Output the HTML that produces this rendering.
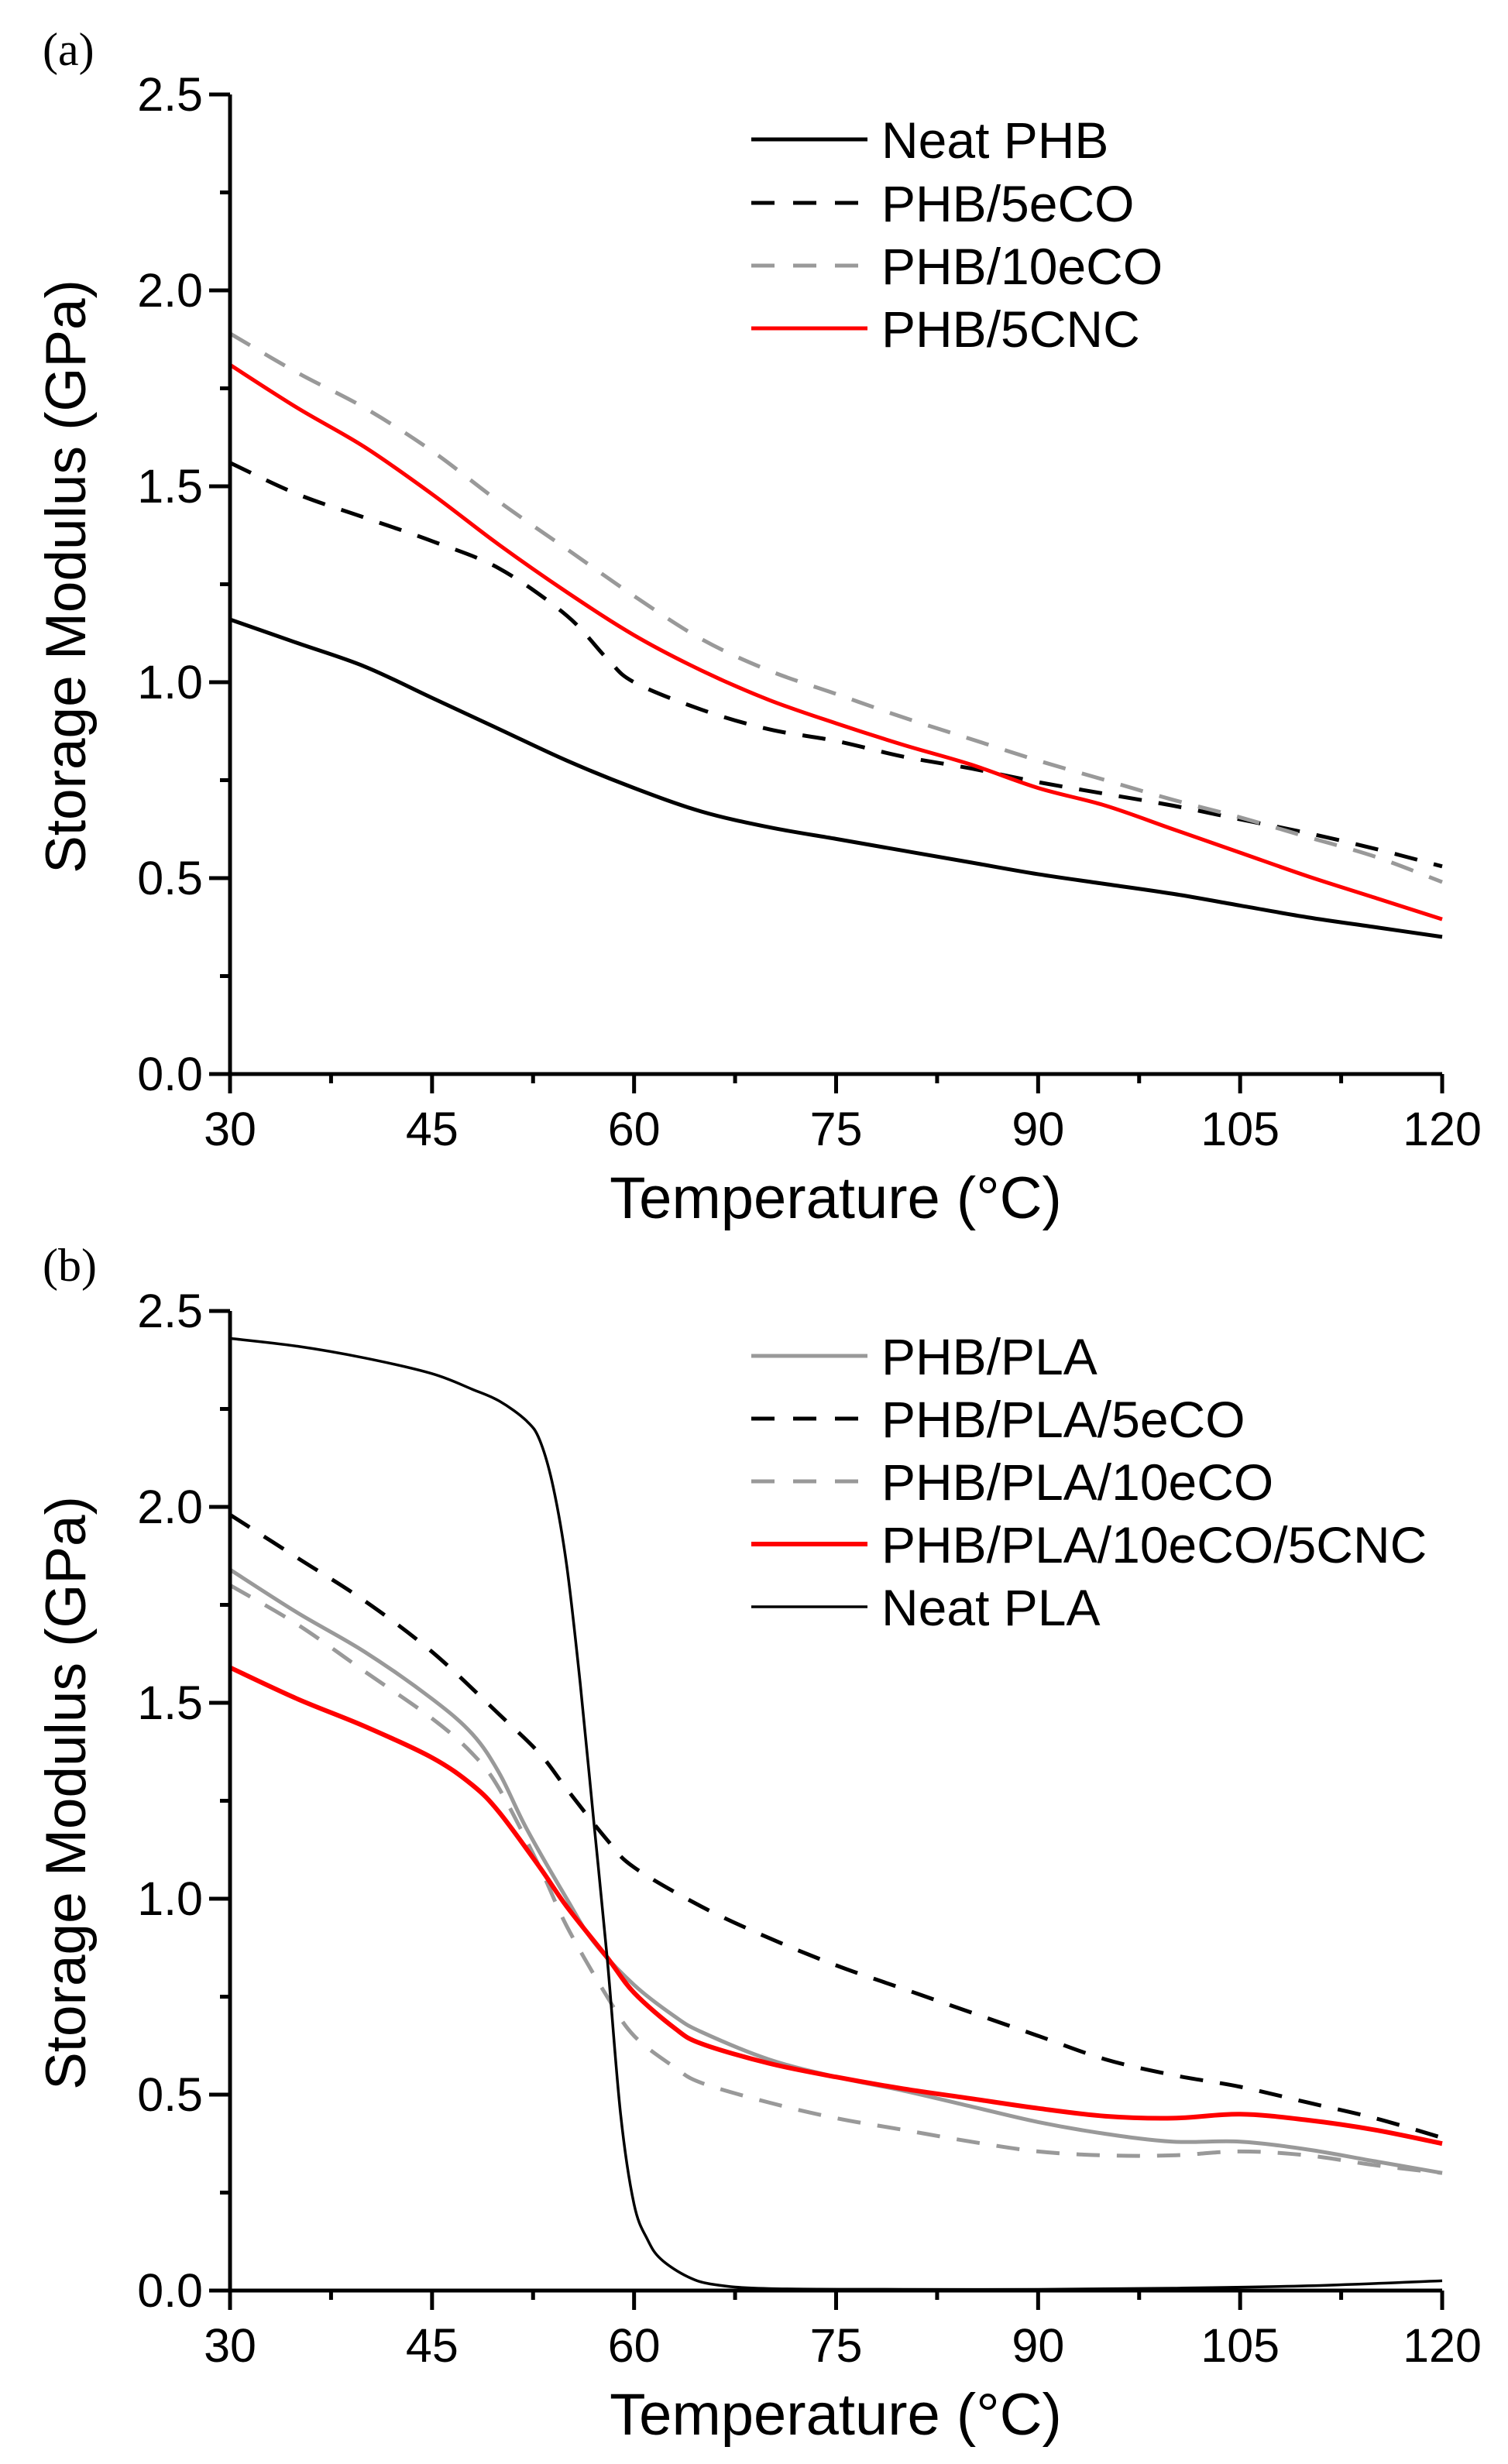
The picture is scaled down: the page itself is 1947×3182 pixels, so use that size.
<!DOCTYPE html>
<html><head><meta charset="utf-8"><style>
html,body{margin:0;padding:0;background:#fff;}
svg{display:block;}
text{font-family:"Liberation Sans",sans-serif;fill:#000;}
</style></head><body>
<svg id="fig" width="1947" height="3182" viewBox="0 0 1947 3182" xmlns="http://www.w3.org/2000/svg"></svg>
<script>
// ---- data: panel (a) ----
const tempA = [30,35,40,45,50,55,60,65,70,75,80,85,90,95,100,105,110,115,120];
const neatPHB = [1.16,1.10,1.04,0.96,0.88,0.80,0.73,0.67,0.63,0.60,0.57,0.54,0.51,0.485,0.46,0.43,0.40,0.375,0.35];
const phb5eCO_T = [30,35,40,45,50,55,58,60,65,70,75,80,85,90,95,100,105,110,115,120];
const phb5eCO = [1.56,1.48,1.42,1.36,1.29,1.17,1.06,1.00,0.93,0.88,0.85,0.81,0.78,0.745,0.715,0.685,0.65,0.615,0.575,0.53];
const phb10eCO = [1.89,1.79,1.70,1.59,1.46,1.34,1.22,1.11,1.03,0.97,0.91,0.855,0.80,0.75,0.70,0.655,0.605,0.555,0.49];
const phb5CNC = [1.81,1.70,1.60,1.48,1.35,1.23,1.12,1.03,0.955,0.895,0.84,0.79,0.73,0.685,0.625,0.565,0.505,0.45,0.395];
// ---- data: panel (b) ----
const plaT = [30,35,40,45,48,50,52,53,54,55,56,57,58,59,60,61,62,64,66,70,80,90,100,110,120];
const neatPLA = [2.43,2.41,2.38,2.34,2.30,2.27,2.22,2.17,2.05,1.85,1.55,1.2,0.85,0.45,0.22,0.13,0.08,0.035,0.015,0.005,0.003,0.003,0.006,0.012,0.025];
const blendT = [30,35,40,45,48,50,52,55,57,60,63,65,70,75,80,85,90,95,100,105,110,115,120];
const phbPLA = [1.84,1.73,1.63,1.51,1.42,1.32,1.18,1.0,0.89,0.78,0.70,0.66,0.59,0.545,0.51,0.47,0.43,0.40,0.38,0.38,0.36,0.33,0.30];
const pla5T = [30,35,40,45,50,53,55,58,60,65,70,75,80,85,90,95,100,105,110,115,120];
const phbPLA5eCO = [1.98,1.87,1.76,1.63,1.47,1.37,1.28,1.15,1.08,0.98,0.90,0.83,0.77,0.71,0.65,0.59,0.55,0.52,0.48,0.44,0.39];
const pla10T = [30,35,40,45,48,50,53,55,58,60,63,65,70,75,80,85,90,95,100,105,110,115,120];
const phbPLA10eCO = [1.80,1.70,1.58,1.46,1.37,1.28,1.08,0.93,0.75,0.65,0.57,0.53,0.48,0.44,0.41,0.38,0.355,0.345,0.345,0.355,0.345,0.32,0.30];
const phbPLA10eCO5CNC = [1.59,1.51,1.44,1.36,1.29,1.22,1.08,0.98,0.85,0.76,0.67,0.63,0.58,0.545,0.515,0.49,0.465,0.445,0.44,0.45,0.435,0.41,0.375];
// ---- ticks ----
const xTicks = [30,45,60,75,90,105,120];
const yTicks = [0.0,0.5,1.0,1.5,2.0,2.5];

const NS = "http://www.w3.org/2000/svg";
const svg = document.getElementById('fig');
function el(tag, attrs, parent){
  const e = document.createElementNS(NS, tag);
  for (const k in attrs) e.setAttribute(k, attrs[k]);
  (parent||svg).appendChild(e);
  return e;
}
const X0=297, X1=1862;
function panel(top, bottom, tag, labelY, series, legendY, gname){
  const g = el('g', {});
  
  
  const xs = t => X0 + (t-30)/90*(X1-X0);
  const ys = v => bottom - v/2.5*(bottom-top);
  const lab = el('text', {x:55, y:labelY, 'font-size':60, style:'font-family:"Liberation Serif",serif'}, g);
  lab.textContent = tag;
  
  
  series.forEach(s=>{
    const pts = s.t.map((t,i)=>[xs(t), ys(s.v[i])]);
    let d = 'M'+pts[0][0]+','+pts[0][1];
    for (let i=0;i<pts.length-1;i++){
      const p0=pts[Math.max(0,i-1)], p1=pts[i], p2=pts[i+1], p3=pts[Math.min(pts.length-1,i+2)];
      const c1=[p1[0]+(p2[0]-p0[0])/6, p1[1]+(p2[1]-p0[1])/6];
      const c2=[p2[0]-(p3[0]-p1[0])/6, p2[1]-(p3[1]-p1[1])/6];
      d += ' C'+c1[0]+','+c1[1]+' '+c2[0]+','+c2[1]+' '+p2[0]+','+p2[1];
    }
    const p = el('path', {d:d, fill:'none', stroke:s.color, 'stroke-width':s.w, 'stroke-dasharray':s.dash||'none'}, g);
    
    
  });
  const ax = el('path', {d:`M${X0},${top} V${bottom} H${X1}`, fill:'none', stroke:'#000', 'stroke-width':5}, g);
  
  
  el('line', {x1:X1, y1:bottom, x2:X1, y2:bottom+25, stroke:'#000','stroke-width':5}, g);
  for (let t=30; t<=120; t+=7.5){
    const major = (t%15===0);
    el('line', {x1:xs(t), y1:bottom, x2:xs(t), y2:bottom+(major?25:12), stroke:'#000','stroke-width':5}, g);
  }
  for (let v=0; v<=2.5001; v+=0.25){
    const major = Math.abs(v*2-Math.round(v*2))<1e-6;
    el('line', {x1:X0, y1:ys(v), x2:X0-(major?27:13), y2:ys(v), stroke:'#000','stroke-width':5}, g);
  }
  xTicks.forEach(t=>{
    const tx = el('text', {x:xs(t), y:bottom+92, 'font-size':61, 'text-anchor':'middle'}, g);
    tx.textContent = t;
    
    
  });
  yTicks.forEach(v=>{
    const tx = el('text', {x:262, y:ys(v)+21, 'font-size':61, 'text-anchor':'end'}, g);
    tx.textContent = v.toFixed(1);
    
    
  });
  const xt = el('text', {x:1079, y:bottom+186, 'font-size':76, 'text-anchor':'middle'}, g);
  xt.textContent = 'Temperature (°C)';
  
  
  const cy = (top+bottom)/2 - 10;
  const yt = el('text', {x:0, y:0, 'font-size':73, 'text-anchor':'middle', transform:`translate(110,${cy}) rotate(-90)`}, g);
  yt.textContent = 'Storage Modulus (GPa)';
  
  
  series.forEach((s,i)=>{
    const y = legendY[i];
    const lg = el('g', {}, g);
    
    
    el('line', {x1:970, y1:y, x2:1120, y2:y, stroke:s.color, 'stroke-width':s.w, 'stroke-dasharray':s.dash?'30 24':'none'}, lg);
    const tx = el('text', {x:1138, y:y+24, 'font-size':66}, lg);
    tx.textContent = s.label;
  });
}
panel(122, 1387, '(a)', 84, [
  {name:'neat-phb', label:'Neat PHB', t:tempA, v:neatPHB, color:'#000', w:5},
  {name:'phb-5eco', label:'PHB/5eCO', t:phb5eCO_T, v:phb5eCO, color:'#000', w:5, dash:'30 22'},
  {name:'phb-10eco', label:'PHB/10eCO', t:tempA, v:phb10eCO, color:'#999', w:5, dash:'30 22'},
  {name:'phb-5cnc', label:'PHB/5CNC', t:tempA, v:phb5CNC, color:'#f00', w:5}
], [180,262,343,424], 'panel-a');
panel(1693, 2958, '(b)', 1654, [
  {name:'phb-pla', label:'PHB/PLA', t:blendT, v:phbPLA, color:'#999', w:5},
  {name:'phb-pla-5eco', label:'PHB/PLA/5eCO', t:pla5T, v:phbPLA5eCO, color:'#000', w:5, dash:'30 22'},
  {name:'phb-pla-10eco', label:'PHB/PLA/10eCO', t:pla10T, v:phbPLA10eCO, color:'#999', w:5, dash:'30 22'},
  {name:'phb-pla-10eco-5cnc', label:'PHB/PLA/10eCO/5CNC', t:pla10T, v:phbPLA10eCO5CNC, color:'#f00', w:6},
  {name:'neat-pla', label:'Neat PLA', t:plaT, v:neatPLA, color:'#000', w:3.5}
], [1751,1832,1913,1994,2075], 'panel-b');
</script>
</body></html>
